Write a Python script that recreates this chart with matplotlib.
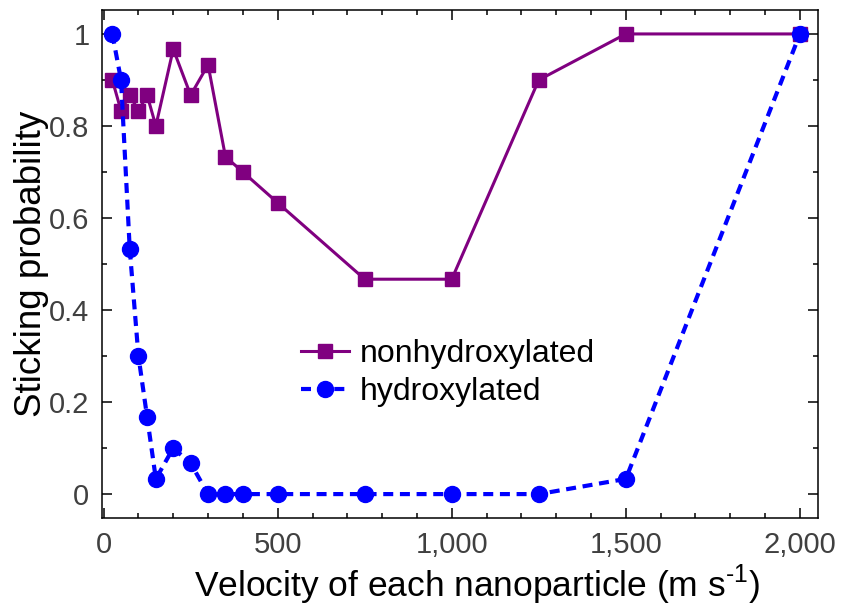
import matplotlib
matplotlib.use('Agg')
import matplotlib.pyplot as plt
from matplotlib.ticker import MultipleLocator, FuncFormatter

# velocities (m/s) and sticking probabilities
vel_nonhydrox = [25, 50, 75, 100, 125, 150, 200, 250, 300, 350, 400, 500, 750, 1000, 1250, 1500, 2000]
stick_nonhydrox = [0.9, 0.833, 0.867, 0.833, 0.867, 0.8, 0.967, 0.867, 0.933, 0.733, 0.7, 0.633,
                   0.467, 0.467, 0.9, 1.0, 1.0]

vel_hydrox = [25, 50, 75, 100, 125, 150, 200, 250, 300, 350, 400, 500, 750, 1000, 1250, 1500, 2000]
stick_hydrox = [1.0, 0.9, 0.533, 0.3, 0.167, 0.033, 0.1, 0.067, 0.0, 0.0, 0.0, 0.0,
                0.0, 0.0, 0.0, 0.033, 1.0]

plt.rcParams['font.family'] = ['Liberation Sans', 'DejaVu Sans']
plt.rcParams['mathtext.fontset'] = 'custom'
plt.rcParams['mathtext.rm'] = 'Liberation Sans'

fig = plt.figure(figsize=(8.42, 6.07), dpi=100)
ax = fig.add_axes([0.121, 0.1466, 0.8505, 0.8369])

ax.plot(vel_nonhydrox, stick_nonhydrox, color='#800080', linewidth=2.2, marker='s',
        markersize=9.5, label='nonhydroxylated')
ax.plot(vel_hydrox, stick_hydrox, color='#0000FF', linewidth=3.0, linestyle=(0, (2.4, 1.6)),
        marker='o', markersize=11.5, label='hydroxylated')

ax.set_xlim(-5, 2052)
ax.set_ylim(-0.052, 1.052)
ax.xaxis.set_major_locator(MultipleLocator(500))
ax.xaxis.set_minor_locator(MultipleLocator(100))
ax.yaxis.set_major_locator(MultipleLocator(0.2))
ax.yaxis.set_minor_locator(MultipleLocator(0.1))
ax.xaxis.set_major_formatter(FuncFormatter(lambda v, p: f'{int(round(v)):,}'))
ax.yaxis.set_major_formatter(FuncFormatter(lambda v, p: '0' if abs(v) < 1e-9 else ('1' if abs(v - 1) < 1e-9 else f'{v:.1f}')))

ax.tick_params(which='both', direction='in', top=True, right=True, width=1.1,
               labelsize=21, labelcolor='#404040', pad=9)
ax.tick_params(which='major', length=7)
ax.tick_params(which='minor', length=3.5)
for s in ax.spines.values():
    s.set_linewidth(1.1)

ax.set_xlabel(r'Velocity of each nanoparticle (m s$^{\text{-1}}$)', fontsize=25.5)
ax.xaxis.set_label_coords(0.524, -0.088)
ax.set_ylabel('Sticking probability', fontsize=26.5, labelpad=0)

ax.legend(loc='center left', bbox_to_anchor=(0.238, 0.285), frameon=False, fontsize=23,
          handlelength=1.5, handletextpad=0.35, labelspacing=0.25)

fig.savefig('out.png', dpi=100)
